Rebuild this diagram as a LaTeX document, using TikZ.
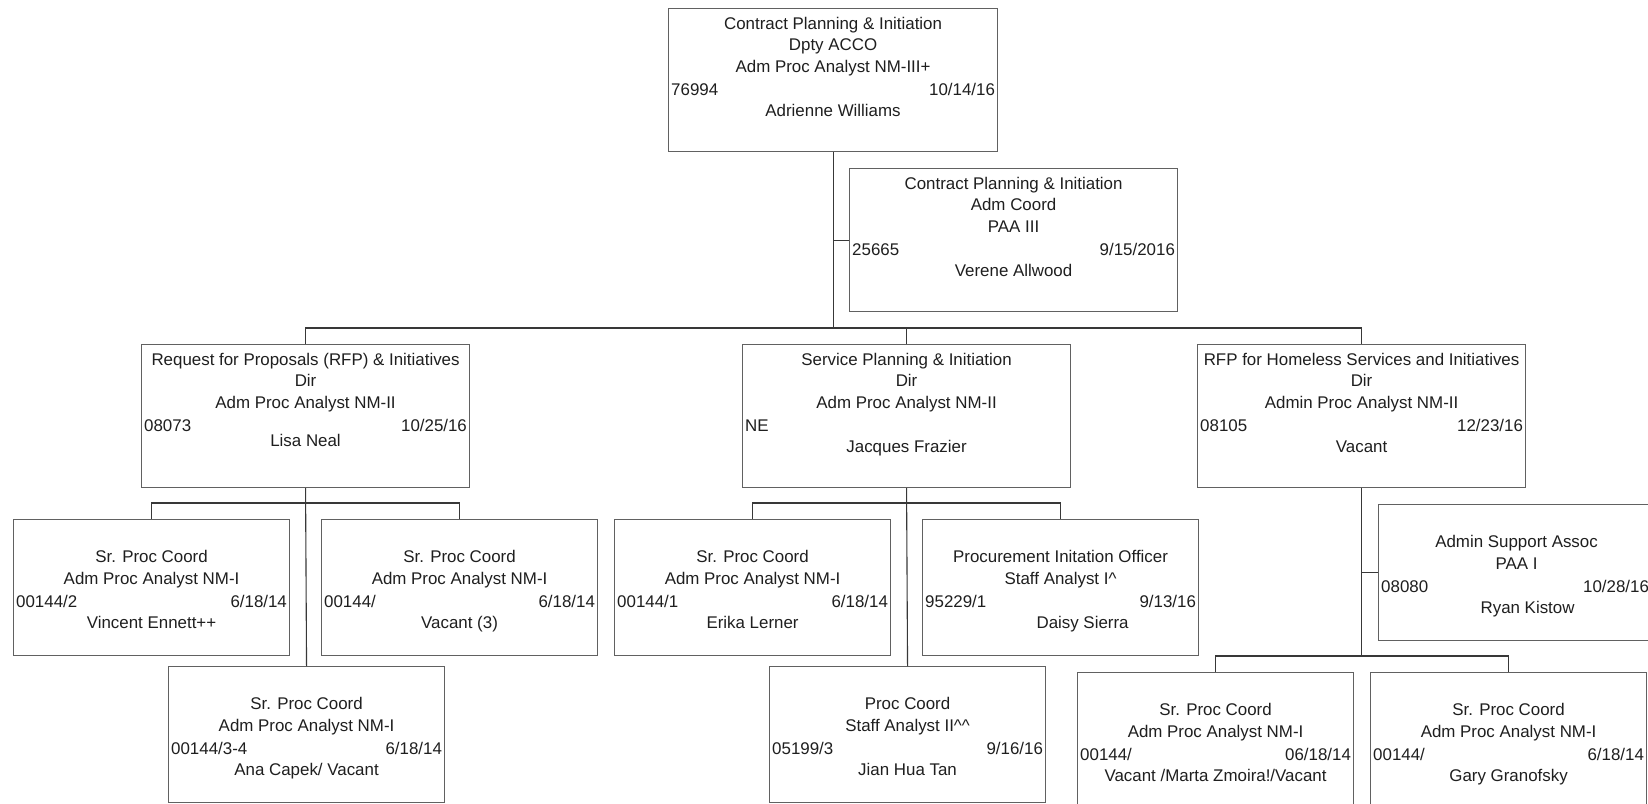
\documentclass[tikz,border=0pt]{standalone}
\usepackage{fontspec}
\setmainfont{Liberation Sans}
% box: name, left x, top y, width, height
\newcommand\obox[5]{\node[orgbox, minimum width=#4pt, minimum height=#5pt] (#1) at (#2,#3) {};}
% centred row: box, row tag, baseline below top, text
\newcommand\crow[4]{\node[txt, anchor=base] (#1-#2) at ([yshift=-#3pt]#1.north) {#4};}
% position number (left) and date (right)
\newcommand\lrow[3]{\node[txt, anchor=base west] (#1-id) at ([xshift=3pt,yshift=-#2pt]#1.north west) {#3};}
\newcommand\rrow[3]{\node[txt, anchor=base east] (#1-date) at ([xshift=-3pt,yshift=-#2pt]#1.north east) {#3};}
\begin{document}
\begin{tikzpicture}[x=1pt,y=-1pt,
  orgbox/.style={draw=black!62, line width=1.1pt, anchor=north west, inner sep=0pt, fill=white},
  txt/.style={inner sep=0pt, text=black!88, font=\fontsize{16.9pt}{20pt}\selectfont},
  link/.style={draw=black!78, line width=1.1pt}]
\useasboundingbox (0,0) rectangle (1648,803);
\fill[white] (0,0) rectangle (1648,803);
\begin{scope}
\clip (0,0) rectangle (1648,803);

% ---- level 1 ----
\obox{top}{668}{8}{329}{143}
\crow{top}{t}{21}{Contract Planning \& Initiation}
\crow{top}{u}{42}{Dpty ACCO}
\crow{top}{g}{64}{Adm Proc Analyst NM-III+}
\lrow{top}{87}{76994}
\rrow{top}{87}{10/14/16}
\crow{top}{n}{108}{Adrienne Williams}

\obox{verene}{849}{168}{328}{143}
\crow{verene}{t}{21}{Contract Planning \& Initiation}
\crow{verene}{u}{42}{Adm Coord}
\crow{verene}{g}{64}{PAA III}
\lrow{verene}{87}{25665}
\rrow{verene}{87}{9/15/2016}
\crow{verene}{n}{108}{Verene Allwood}

% ---- level 2 ----
\obox{rfp}{141}{344}{328}{143}
\crow{rfp}{t}{21}{Request for Proposals (RFP) \& Initiatives}
\crow{rfp}{u}{42}{Dir}
\crow{rfp}{g}{64}{Adm Proc Analyst NM-II}
\lrow{rfp}{87}{08073}
\rrow{rfp}{87}{10/25/16}
\crow{rfp}{n}{102}{Lisa Neal}

\obox{svc}{742}{344}{328}{143}
\crow{svc}{t}{21}{Service Planning \& Initiation}
\crow{svc}{u}{42}{Dir}
\crow{svc}{g}{64}{Adm Proc Analyst NM-II}
\lrow{svc}{87}{NE}
\crow{svc}{n}{108}{Jacques Frazier}

\obox{home}{1197}{344}{328}{143}
\crow{home}{t}{21}{RFP for Homeless Services and Initiatives}
\crow{home}{u}{42}{Dir}
\crow{home}{g}{64}{Admin Proc Analyst NM-II}
\lrow{home}{87}{08105}
\rrow{home}{87}{12/23/16}
\crow{home}{n}{108}{Vacant}

% ---- level 3 ----
\obox{vincent}{13}{519}{276}{136}
\crow{vincent}{t}{43}{Sr. Proc Coord}
\crow{vincent}{g}{65}{Adm Proc Analyst NM-I}
\lrow{vincent}{88}{00144/2}
\rrow{vincent}{88}{6/18/14}
\crow{vincent}{n}{109}{Vincent Ennett++}

\obox{vacthree}{321}{519}{276}{136}
\crow{vacthree}{t}{43}{Sr. Proc Coord}
\crow{vacthree}{g}{65}{Adm Proc Analyst NM-I}
\lrow{vacthree}{88}{00144/}
\rrow{vacthree}{88}{6/18/14}
\crow{vacthree}{n}{109}{Vacant (3)}

\obox{ana}{168}{666}{276}{136}
\crow{ana}{t}{43}{Sr. Proc Coord}
\crow{ana}{g}{65}{Adm Proc Analyst NM-I}
\lrow{ana}{88}{00144/3-4}
\rrow{ana}{88}{6/18/14}
\crow{ana}{n}{109}{Ana Capek/ Vacant}

\obox{erika}{614}{519}{276}{136}
\crow{erika}{t}{43}{Sr. Proc Coord}
\crow{erika}{g}{65}{Adm Proc Analyst NM-I}
\lrow{erika}{88}{00144/1}
\rrow{erika}{88}{6/18/14}
\crow{erika}{n}{109}{Erika Lerner}

\obox{daisy}{922}{519}{276}{136}
\crow{daisy}{t}{43}{Procurement Initation Officer}
\crow{daisy}{g}{65}{Staff Analyst I\textasciicircum}
\lrow{daisy}{88}{95229/1}
\rrow{daisy}{88}{9/13/16}
\node[txt, anchor=base] (daisy-n) at ([xshift=22pt,yshift=-109pt]daisy.north) {Daisy Sierra};

\obox{jian}{769}{666}{276}{136}
\crow{jian}{t}{43}{Proc Coord}
\crow{jian}{g}{65}{Staff Analyst II\textasciicircum\textasciicircum}
\lrow{jian}{88}{05199/3}
\rrow{jian}{88}{9/16/16}
\crow{jian}{n}{109}{Jian Hua Tan}

\obox{admin}{1378}{504}{276}{136}
\crow{admin}{t}{43}{Admin Support Assoc}
\crow{admin}{g}{65}{PAA I}
\lrow{admin}{88}{08080}
\node[txt, anchor=base east] (admin-date) at ([xshift=-6pt,yshift=-88pt]admin.north east) {10/28/16};
\node[txt, anchor=base] (admin-n) at ([xshift=11pt,yshift=-109pt]admin.north) {Ryan Kistow};

\obox{marta}{1077}{672}{276}{136}
\crow{marta}{t}{43}{Sr. Proc Coord}
\crow{marta}{g}{65}{Adm Proc Analyst NM-I}
\lrow{marta}{88}{00144/}
\rrow{marta}{88}{06/18/14}
\crow{marta}{n}{109}{Vacant /Marta Zmoira!/Vacant}

\obox{gary}{1370}{672}{276}{136}
\crow{gary}{t}{43}{Sr. Proc Coord}
\crow{gary}{g}{65}{Adm Proc Analyst NM-I}
\lrow{gary}{88}{00144/}
\rrow{gary}{88}{6/18/14}
\crow{gary}{n}{109}{Gary Granofsky}

% ---- connectors ----
\coordinate (mainbus) at (top.south |- 0,328);
\draw[link] (top.south) -- (mainbus);
\draw[link] (verene.west) -- (verene.west -| top.south);
\draw[link] (rfp.north) |- (mainbus) -| (home.north);
\draw[link] (svc.north) -- (svc.north |- mainbus);

\draw[link] (rfp.south) -- (ana.north);
\draw[link] (vincent.north) -- (vincent.north |- 0,503) -| (vacthree.north);

\draw[link] (svc.south) -- (jian.north);
\draw[link] (erika.north) -- (erika.north |- 0,503) -| (daisy.north);

\coordinate (homebus) at (home.south |- 0,656);
\draw[link] (home.south) -- (homebus);
\draw[link] (admin.west) -- (admin.west -| home.south);
\draw[link] (marta.north) -- (marta.north |- homebus) -| (gary.north);
\end{scope}
\end{tikzpicture}
\end{document}
